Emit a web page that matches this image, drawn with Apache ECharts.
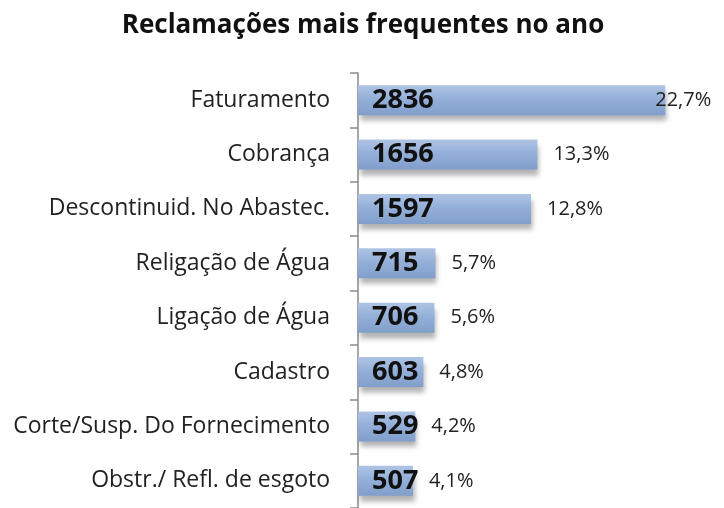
<!DOCTYPE html>
<html>
<head>
<meta charset="utf-8">
<script src="https://cdn.jsdelivr.net/npm/echarts@6/dist/echarts.min.js"></script>
<style>
  html, body { margin: 0; padding: 0; background: #fff; }
  #chart { width: 724px; height: 508px; }
</style>
</head>
<body>
<div id="chart"></div>
<script>
// categorias (de cima para baixo)
const categories = [
  'Faturamento',
  'Cobrança',
  'Descontinuid. No Abastec.',
  'Religação de Água',
  'Ligação de Água',
  'Cadastro',
  'Corte/Susp. Do Fornecimento',
  'Obstr./ Refl. de esgoto'
]
const totals = [2836, 1656, 1597, 715, 706, 603, 529, 507]
const percents = ['22,7%', '13,3%', '12,8%', '5,7%', '5,6%', '4,8%', '4,2%', '4,1%']

const chart = echarts.init(document.getElementById('chart'))

const maxValue = Math.max(...totals)
const font = 'Open Sans'

const barStyle = {
  color: new echarts.graphic.LinearGradient(0, 0, 0, 1, [
    { offset: 0, color: '#afc4e4' },
    { offset: 0.45, color: '#94b0d9' },
    { offset: 1, color: '#819ecb' }
  ]),
  shadowColor: 'rgba(0, 0, 0, 0.3)',
  shadowBlur: 5,
  shadowOffsetX: 2,
  shadowOffsetY: 6
}

chart.setOption({
  animation: false,
  title: {
    text: 'Reclamações mais frequentes no ano',
    left: 358,
    textAlign: 'center',
    top: 8,
    textStyle: {
      fontFamily: font,
      fontWeight: 'bold',
      fontSize: 26,
      color: '#111'
    }
  },
  grid: {
    left: 358,
    top: 73,
    height: 443,
    right: 41
  },
  xAxis: {
    type: 'value',
    min: 0,
    max: 3000,
    show: false
  },
  yAxis: {
    type: 'category',
    data: categories,
    inverse: true,
    offset: 6,
    axisLine: { show: true, lineStyle: { color: '#8a8a8a', width: 1.5 } },
    axisTick: { show: true, length: 8, lineStyle: { color: '#8a8a8a', width: 1.5 } },
    axisLabel: {
      fontFamily: font,
      fontSize: 23,
      color: '#222',
      margin: 22
    }
  },
  series: [
    {
      type: 'bar',
      data: totals,
      barWidth: 30,
      itemStyle: barStyle,
      label: {
        show: true,
        position: 'insideLeft',
        distance: 14,
        fontFamily: font,
        fontWeight: 'bold',
        fontSize: 27,
        color: '#111'
      },
      z: 2
    },
    {
      // série invisível só para os percentuais à direita das barras
      type: 'bar',
      barGap: '-100%',
      barWidth: 30,
      itemStyle: { color: 'transparent' },
      data: totals.map(v => ({
        value: v,
        label: {
          distance: v === maxValue ? -10 : 16
        }
      })),
      label: {
        show: true,
        position: 'right',
        formatter: p => percents[p.dataIndex],
        fontFamily: font,
        fontSize: 20,
        color: '#222'
      },
      z: 3
    }
  ]
})
</script>
</body>
</html>
